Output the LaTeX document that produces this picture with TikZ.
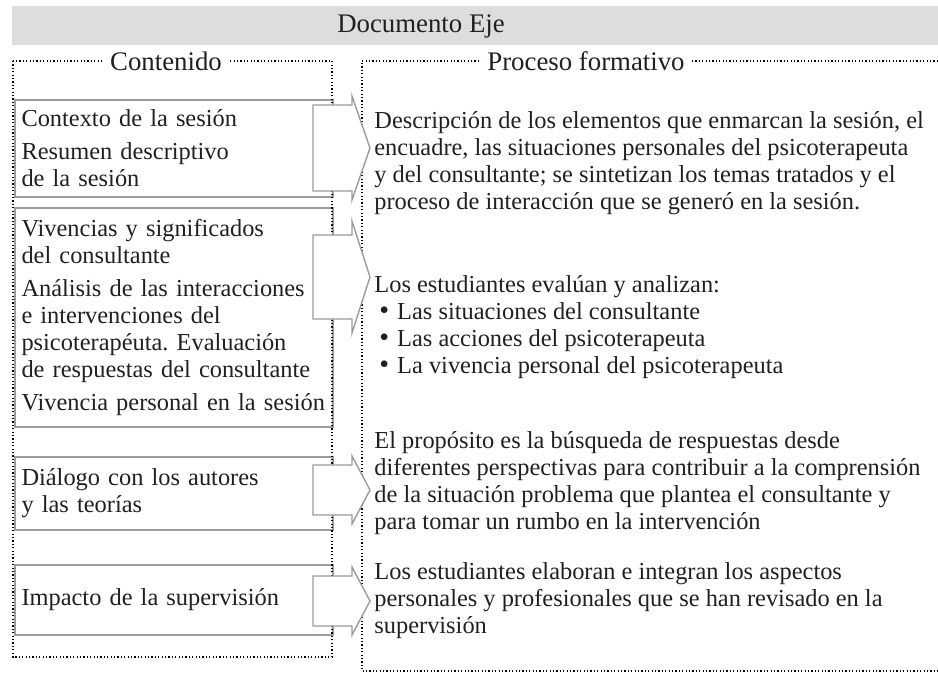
\documentclass[tikz,border=0pt]{standalone}
\usepackage{fontspec}
\setmainfont{Liberation Serif}
\usetikzlibrary{positioning}

\definecolor{barfill}{HTML}{DCDDDE}
\definecolor{boxline}{HTML}{9B9B9B}
\definecolor{inkcol}{HTML}{231F20}

\newcommand{\stagebullet}{\hspace*{2.5pt}{\fontsize{14}{13.5}\selectfont\textbullet}\hspace{4pt}}

\begin{document}
\frenchspacing
\begin{tikzpicture}[
          x=0.5pt, y=-0.5pt,
          bodyfont/.style = {font=\fontsize{12.2}{13.5}\selectfont},
          headfont/.style = {font=\fontsize{13.4}{15}\selectfont},
          framebox/.style = {line width=0.6pt, dash pattern=on 0.6pt off 1.1pt},
          itembox/.style = {rectangle, draw=boxline, line width=0.7pt, anchor=north west, minimum width=159pt, text width=152.5pt, inner xsep=3.25pt, inner ysep=0pt, outer sep=0pt, align=left, bodyfont},
          blockarrow/.style = {draw=boxline, line width=0.7pt, fill=white, line join=miter},
          stage/.style = {anchor=north west, inner sep=0pt, align=left, bodyfont},
          text = inkcol
        ]
        \useasboundingbox (0,0) rectangle (938,675);

        % Header
        \fill[barfill] (12,6) rectangle (938,45);
        \node[headfont] (title) at (421,26) {Documento Eje};

        % Content boxes
        \node[itembox, minimum height=48.5pt] (context) at (15,100) {Contexto de la sesión\\[3pt] Resumen descriptivo\\ de la sesión};
        \node[itembox, minimum height=109.5pt, below=5.5pt of context.south west, anchor=north west] (analysis) {Vivencias y significados\\ del consultante\\[3pt] Análisis de las interacciones\\ e intervenciones del\\ psicoterapéuta. Evaluación\\ de respuestas del consultante\\[3pt] Vivencia personal en la sesión};
        \node[itembox, minimum height=36.5pt, below=15pt of analysis.south west, anchor=north west] (dialogue) {Diálogo con los autores\\ y las teorías};
        \node[itembox, minimum height=35pt, below=17.5pt of dialogue.south west, anchor=north west] (impact) {Impacto de la supervisión};

        % Dotted frames
        \draw[framebox] (13,61) rectangle (332,657);
        \draw[framebox] (938,61) -- (362,61) -- (362,671) -- (938,671);
        \node[headfont, fill=white, inner xsep=3pt] (content) at (166,61) {Contenido};
        \node[headfont, fill=white, inner xsep=3pt] (process) at (586,61) {Proceso formativo};

        % Block arrows
        \foreach \c/\h/\r in {148/52/43, 277/56/42, 490/34/25, 601/34/25}
          \draw[blockarrow] (313,\c-\r) -- (352,\c-\r) -- (352,\c-\h) -- (370,\c) -- (352,\c+\h) -- (352,\c+\r) -- (313,\c+\r) -- cycle;

        % Process descriptions
        \node[stage] (describe) at (374,111) {Descripción de los elementos que enmarcan la sesión, el\\ encuadre, las situaciones personales del psicoterapeuta\\ y del consultante; se sintetizan los temas tratados y el\\ proceso de interacción que se generó en la sesión.};
        \node[stage] (evaluate) at (374,275) {Los estudiantes evalúan y analizan:\\ \stagebullet Las situaciones del consultante\\ \stagebullet Las acciones del psicoterapeuta\\ \stagebullet La vivencia personal del psicoterapeuta};
        \node[stage] (purpose) at (374,431) {El propósito es la búsqueda de respuestas desde\\ diferentes perspectivas para contribuir a la comprensión\\ de la situación problema que plantea el consultante y\\ para tomar un rumbo en la intervención};
        \node[stage] (integrate) at (374,562) {Los estudiantes elaboran e integran los aspectos\\ personales y profesionales que se han revisado en la\\ supervisión};

      \end{tikzpicture}
\end{document}
